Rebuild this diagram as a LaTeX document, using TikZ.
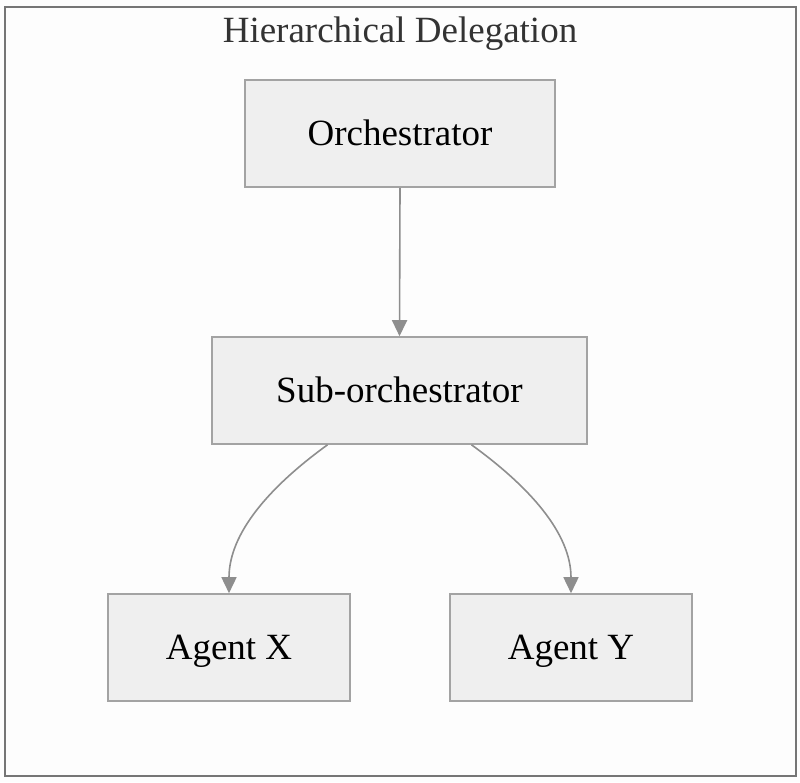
\documentclass[tikz,border=0pt]{standalone}
\usepackage{fontspec}
\setmainfont{Liberation Serif}
\usetikzlibrary{arrows.meta,calc}
\definecolor{bgc}{HTML}{FDFDFD}
\definecolor{framec}{HTML}{757575}
\definecolor{boxfill}{HTML}{EFEFEF}
\definecolor{boxline}{HTML}{A3A3A3}
\definecolor{edgec}{HTML}{8E8E8E}
\tikzset{
  agentbox/.style={draw=boxline, fill=boxfill, line width=1.6pt, inner sep=0pt, font=\fontsize{37}{42}\selectfont, text=black, text height=24pt, text depth=0pt},
  edge/.style={draw=edgec, line width=1.6pt, -{Triangle[width=15pt,length=16pt]}}
}
\begin{document}
\begin{tikzpicture}[x=1pt,y=-1pt]
\useasboundingbox (0,0) rectangle (800,782);
\fill[bgc] (0,0) rectangle (800,782);
\node[draw=framec, line width=2pt, minimum width=791pt, minimum height=769pt, inner sep=0pt] (frame) at (400.5,391.5) {};
\node[font=\fontsize{37}{42}\selectfont, text={rgb,255:red,51;green,51;blue,51}, text height=24pt, text depth=0pt] (title) at (400,30) {Hierarchical Delegation};
\node[agentbox, minimum width=310pt, minimum height=107pt] (orch) at (400,133.5) {Orchestrator};
\node[agentbox, minimum width=375pt, minimum height=107pt] (sub) at (399.5,390.5) {Sub-orchestrator};
\node[agentbox, minimum width=242pt, minimum height=107pt] (ax) at (229,647.5) {Agent X};
\node[agentbox, minimum width=242pt, minimum height=107pt] (ay) at (571,647.5) {Agent Y};
\draw[edge] (orch.south) -- (sub.north);
\draw[edge] ($(sub.south)+(-72,0)$) .. controls ($(sub.south)+(-130,42)$) and ($(ax.north)+(0,-60)$) .. (ax.north);
\draw[edge] ($(sub.south)+(72,0)$) .. controls ($(sub.south)+(130,42)$) and ($(ay.north)+(0,-60)$) .. (ay.north);
\end{tikzpicture}
\end{document}
